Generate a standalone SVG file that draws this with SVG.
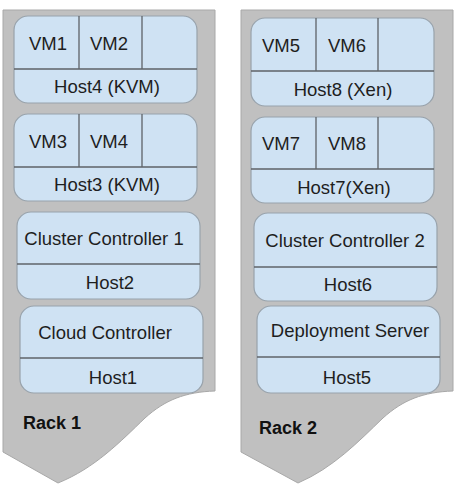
<svg xmlns="http://www.w3.org/2000/svg" width="455" height="495" viewBox="0 0 455 495">
<style>
.rack{fill:#c0c0c0;stroke:#a8a8a8;stroke-width:1}
.box{fill:#cfe2f3;stroke:#98a2ab;stroke-width:1.2}
.div{stroke:#5f6368;stroke-width:1.3;fill:none}
text{font-family:"Liberation Sans",Arial,sans-serif;font-size:18.5px;fill:#1e1e1e;text-anchor:middle}
.lbl{font-weight:bold;font-size:18px;text-anchor:start;fill:#111}
</style>
<rect width="455" height="495" fill="#ffffff"/>
<g id="rack1">
<path class="rack" d="M3,10 H215 V391 C185,392 165,400 145,418 C120,442 95,468 58,483 L3,452 Z"/>
<text class="lbl" x="23" y="429">Rack 1</text>
</g>
<g id="rack2">
<path class="rack" d="M241,10 H453 V391 C423,392 403,400 383,418 C358,442 333,468 298,483 L241,452 Z"/>
<text class="lbl" x="259" y="434">Rack 2</text>
</g>
<g id="host4">
<rect class="box" x="14" y="16" width="183" height="87" rx="14"/>
<path class="div" d="M14,69 H197 M79,16 V69 M142,16 V69"/>
<text x="48" y="50">VM1</text>
<text x="109" y="50">VM2</text>
<text x="107" y="93">Host4 (KVM)</text>
</g>
<g id="host3">
<rect class="box" x="14" y="114" width="183" height="87" rx="14"/>
<path class="div" d="M14,167 H197 M79,114 V167 M142,114 V167"/>
<text x="48" y="148">VM3</text>
<text x="109" y="148">VM4</text>
<text x="107" y="191">Host3 (KVM)</text>
</g>
<g id="host2">
<rect class="box" x="17" y="212" width="183" height="87" rx="14"/>
<path class="div" d="M17,264 H200"/>
<text x="104" y="245">Cluster Controller 1</text>
<text x="110" y="289">Host2</text>
</g>
<g id="host1">
<rect class="box" x="20" y="306" width="183" height="87" rx="14"/>
<path class="div" d="M20,358 H203"/>
<text x="105" y="339">Cloud Controller</text>
<text x="113" y="384">Host1</text>
</g>
<g id="host8">
<rect class="box" x="251" y="18" width="183" height="88" rx="14"/>
<path class="div" d="M251,71 H434 M316,18 V71 M378,18 V71"/>
<text x="281" y="52">VM5</text>
<text x="347" y="52">VM6</text>
<text x="343" y="96">Host8 (Xen)</text>
</g>
<g id="host7">
<rect class="box" x="251" y="117" width="183" height="86" rx="14"/>
<path class="div" d="M251,169 H434 M316,117 V169 M378,117 V169"/>
<text x="281" y="150">VM7</text>
<text x="347" y="150">VM8</text>
<text x="344" y="194">Host7(Xen)</text>
</g>
<g id="host6">
<rect class="box" x="254" y="213" width="183" height="88" rx="14"/>
<path class="div" d="M254,267 H437"/>
<text x="345" y="247">Cluster Controller 2</text>
<text x="348" y="291">Host6</text>
</g>
<g id="host5">
<rect class="box" x="257" y="306" width="183" height="87" rx="14"/>
<path class="div" d="M257,357 H440"/>
<text x="350" y="337">Deployment Server</text>
<text x="347" y="384">Host5</text>
</g>
<g id="connectors"/>
</svg>
